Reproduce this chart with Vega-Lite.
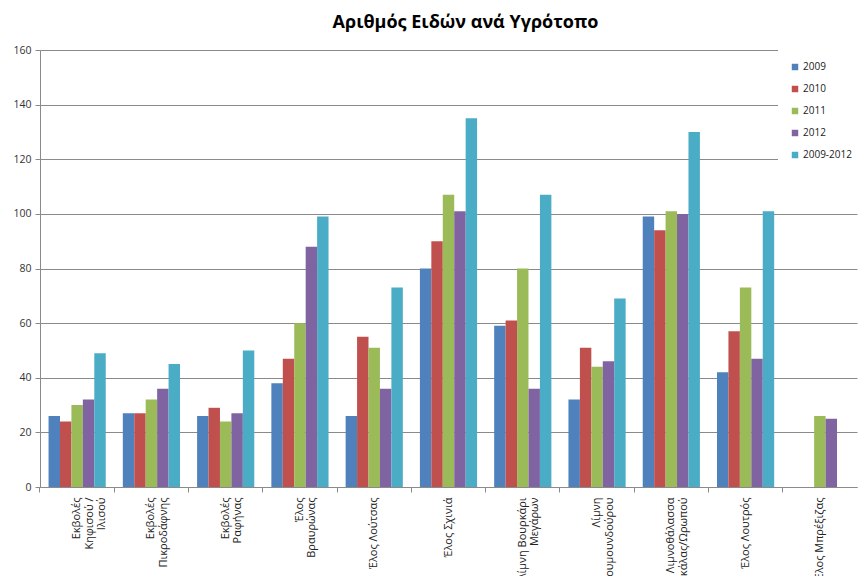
{
  "$schema": "https://vega.github.io/schema/vega-lite/v6.json",
  "autosize": "none",
  "width": 817,
  "height": 437,
  "padding": {"left": 40, "top": 50, "right": 2, "bottom": 89},
  "background": "white",
  "title": {
    "text": "Αριθμός Ειδών ανά Υγρότοπο",
    "font": "Open Sans",
    "fontSize": 18,
    "fontWeight": "bold",
    "color": "#000000",
    "anchor": "middle",
    "dx": 17,
    "offset": 13
  },
  "config": {
    "view": {"stroke": null},
    "font": "Open Sans"
  },
  "data": {
    "values": [
      {"site": "Εκβολές\nΚηφισού /\nΙλισού", "series": "2009", "species": 26},
      {"site": "Εκβολές\nΚηφισού /\nΙλισού", "series": "2010", "species": 24},
      {"site": "Εκβολές\nΚηφισού /\nΙλισού", "series": "2011", "species": 30},
      {"site": "Εκβολές\nΚηφισού /\nΙλισού", "series": "2012", "species": 32},
      {"site": "Εκβολές\nΚηφισού /\nΙλισού", "series": "2009-2012", "species": 49},
      {"site": "Εκβολές\nΠικροδάφνης", "series": "2009", "species": 27},
      {"site": "Εκβολές\nΠικροδάφνης", "series": "2010", "species": 27},
      {"site": "Εκβολές\nΠικροδάφνης", "series": "2011", "species": 32},
      {"site": "Εκβολές\nΠικροδάφνης", "series": "2012", "species": 36},
      {"site": "Εκβολές\nΠικροδάφνης", "series": "2009-2012", "species": 45},
      {"site": "Εκβολές\nΡαφήνας", "series": "2009", "species": 26},
      {"site": "Εκβολές\nΡαφήνας", "series": "2010", "species": 29},
      {"site": "Εκβολές\nΡαφήνας", "series": "2011", "species": 24},
      {"site": "Εκβολές\nΡαφήνας", "series": "2012", "species": 27},
      {"site": "Εκβολές\nΡαφήνας", "series": "2009-2012", "species": 50},
      {"site": "Έλος\nΒραυρώνας", "series": "2009", "species": 38},
      {"site": "Έλος\nΒραυρώνας", "series": "2010", "species": 47},
      {"site": "Έλος\nΒραυρώνας", "series": "2011", "species": 60},
      {"site": "Έλος\nΒραυρώνας", "series": "2012", "species": 88},
      {"site": "Έλος\nΒραυρώνας", "series": "2009-2012", "species": 99},
      {"site": "Έλος Λούτσας", "series": "2009", "species": 26},
      {"site": "Έλος Λούτσας", "series": "2010", "species": 55},
      {"site": "Έλος Λούτσας", "series": "2011", "species": 51},
      {"site": "Έλος Λούτσας", "series": "2012", "species": 36},
      {"site": "Έλος Λούτσας", "series": "2009-2012", "species": 73},
      {"site": "Έλος Σχινιά", "series": "2009", "species": 80},
      {"site": "Έλος Σχινιά", "series": "2010", "species": 90},
      {"site": "Έλος Σχινιά", "series": "2011", "species": 107},
      {"site": "Έλος Σχινιά", "series": "2012", "species": 101},
      {"site": "Έλος Σχινιά", "series": "2009-2012", "species": 135},
      {"site": "Λίμνη Βουρκάρι\nΜεγάρων", "series": "2009", "species": 59},
      {"site": "Λίμνη Βουρκάρι\nΜεγάρων", "series": "2010", "species": 61},
      {"site": "Λίμνη Βουρκάρι\nΜεγάρων", "series": "2011", "species": 80},
      {"site": "Λίμνη Βουρκάρι\nΜεγάρων", "series": "2012", "species": 36},
      {"site": "Λίμνη Βουρκάρι\nΜεγάρων", "series": "2009-2012", "species": 107},
      {"site": "Λίμνη\nΚουμουνδούρου", "series": "2009", "species": 32},
      {"site": "Λίμνη\nΚουμουνδούρου", "series": "2010", "species": 51},
      {"site": "Λίμνη\nΚουμουνδούρου", "series": "2011", "species": 44},
      {"site": "Λίμνη\nΚουμουνδούρου", "series": "2012", "species": 46},
      {"site": "Λίμνη\nΚουμουνδούρου", "series": "2009-2012", "species": 69},
      {"site": "Λιμνοθάλασσα\nΣκάλας/Ωρωπού", "series": "2009", "species": 99},
      {"site": "Λιμνοθάλασσα\nΣκάλας/Ωρωπού", "series": "2010", "species": 94},
      {"site": "Λιμνοθάλασσα\nΣκάλας/Ωρωπού", "series": "2011", "species": 101},
      {"site": "Λιμνοθάλασσα\nΣκάλας/Ωρωπού", "series": "2012", "species": 100},
      {"site": "Λιμνοθάλασσα\nΣκάλας/Ωρωπού", "series": "2009-2012", "species": 130},
      {"site": "Έλος Λουτρός", "series": "2009", "species": 42},
      {"site": "Έλος Λουτρός", "series": "2010", "species": 57},
      {"site": "Έλος Λουτρός", "series": "2011", "species": 73},
      {"site": "Έλος Λουτρός", "series": "2012", "species": 47},
      {"site": "Έλος Λουτρός", "series": "2009-2012", "species": 101},
      {"site": "Έλος Μπρέξιζας", "series": "2011", "species": 26},
      {"site": "Έλος Μπρέξιζας", "series": "2012", "species": 25}
    ]
  },
  "encoding": {
    "x": {
      "field": "site",
      "type": "nominal",
      "sort": null,
      "scale": {"paddingInner": 0.23, "paddingOuter": 0.115}
    },
    "xOffset": {
      "field": "series",
      "type": "nominal",
      "sort": ["2009", "2010", "2011", "2012", "2009-2012"],
      "scale": {"paddingInner": 0, "paddingOuter": 0}
    },
    "y": {
      "field": "species",
      "type": "quantitative",
      "scale": {"domain": [0, 160], "nice": false},
      "axis": {
        "title": null,
        "values": [0, 20, 40, 60, 80, 100, 120, 140, 160],
        "grid": true,
        "gridColor": "#8a8a8a",
        "gridWidth": 1,
        "domainColor": "#8a8a8a",
        "tickColor": "#8a8a8a",
        "tickSize": 5,
        "labelFont": "Open Sans",
        "labelFontSize": 10.5,
        "labelColor": "#333333",
        "labelPadding": 4
      }
    }
  },
  "layer": [
    {
      "mark": {"type": "bar", "opacity": 0},
      "encoding": {
        "x": {
          "field": "site",
          "type": "nominal",
          "sort": null,
          "axis": {
            "orient": "bottom",
            "title": null,
            "labels": false,
            "domain": false,
            "grid": false,
            "ticks": true,
            "bandPosition": -0.15,
            "tickColor": "#8a8a8a",
            "tickSize": 5
          }
        }
      }
    },
    {
      "mark": {"type": "bar"},
      "encoding": {
        "x": {
          "field": "site",
          "type": "nominal",
          "sort": null,
          "axis": {
            "orient": "bottom",
            "title": null,
            "ticks": false,
            "grid": false,
            "domainColor": "#8a8a8a",
            "labelAngle": -90,
            "labelAlign": "right",
            "labelBaseline": "middle",
            "labelPadding": 10,
            "labelFont": "Open Sans",
            "labelFontSize": 11,
            "labelLineHeight": 12.5,
            "labelColor": "#222222",
            "labelExpr": "split(datum.label, '\\n')"
          }
        },
        "color": {
          "field": "series",
          "type": "nominal",
          "sort": ["2009", "2010", "2011", "2012", "2009-2012"],
          "scale": {
            "domain": ["2009", "2010", "2011", "2012", "2009-2012"],
            "range": ["#4F81BD", "#C0504D", "#9BBB59", "#8064A2", "#4BACC6"]
          },
          "legend": {
            "title": null,
            "orient": "none",
            "legendX": 738,
            "legendY": 0,
            "fillColor": "white",
            "padding": 12,
            "symbolType": "square",
            "symbolSize": 42,
            "symbolStrokeWidth": 0,
            "labelFont": "Open Sans",
            "labelFontSize": 10,
            "labelColor": "#222222",
            "rowPadding": 12,
            "labelOffset": 3
          }
        }
      }
    }
  ],
  "resolve": {"axis": {"x": "independent"}}
}
